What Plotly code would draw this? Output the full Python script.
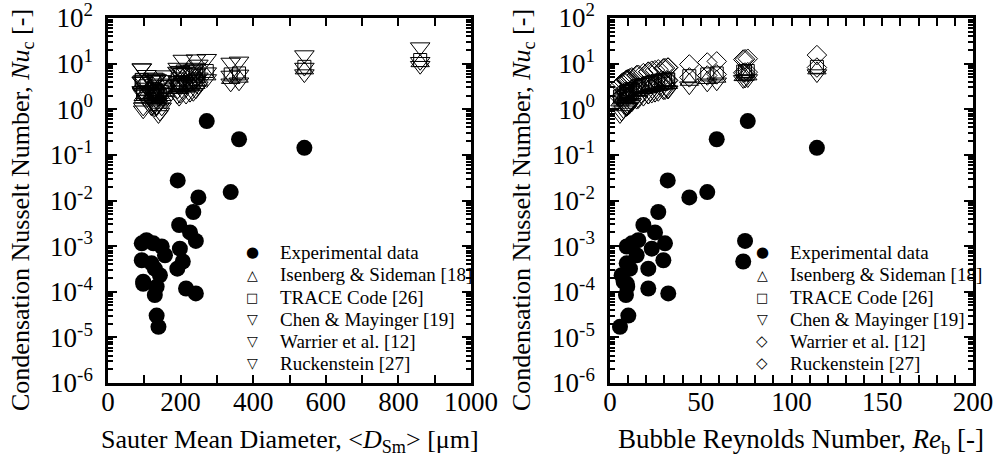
import plotly.graph_objects as go

# ---------------- data ----------------
d_sm = [272, 361, 541, 192, 249, 338, 235, 196, 226, 242, 198, 206, 191, 215, 242,
        106, 93, 125, 148, 157, 93, 120, 129, 143, 97, 97, 134, 129, 134, 139, 860]
re_b = [75.9, 58.8, 114, 31.8, 43.7, 53.6, 26.6, 18.4, 24.8, 74.4, 23, 73.4, 21.1, 21.1, 32.1,
        15.6, 30.3, 12, 9.2, 14.7, 29.4, 9.2, 11, 6.4, 7.5, 9.2, 9.5, 8.8, 10.1, 5.5, None]
nu_exp = [0.55, 0.22, 0.143, 0.0275, 0.0117, 0.0153, 0.0056, 0.0029, 0.0020, 0.0013, 0.00088,
          0.00046, 0.00032, 0.000118, 0.000092, 0.00135, 0.00115, 0.00115, 0.00098, 0.00063,
          0.00049, 0.00042, 0.00032, 0.00023, 0.000166, 0.00015, 0.000129, 0.000085, 0.00003,
          0.000017, None]
nu_isenberg = [5.4, 4.8, 7.3, 3.5, 4.1, 4.5, 3.2, 2.7, 3.1, 5.3, 3.0, 5.2, 2.8, 2.9, 3.5,
               2.5, 3.4, 2.1, 1.9, 2.4, 3.4, 1.9, 2.1, 1.6, 1.7, 1.9, 1.9, 1.8, 2.0, 1.45, 10.5]
nu_trace = [6.9, 6.1, 8.5, 4.5, 5.3, 5.8, 4.1, 3.4, 4.0, 6.8, 3.8, 6.7, 3.7, 3.6, 4.5,
            3.2, 4.4, 2.8, 2.4, 3.1, 4.3, 2.4, 2.7, 2.0, 2.2, 2.4, 2.5, 2.4, 2.5, 1.9, 12]
nu_chen = [4.6, 3.9, 5.9, 2.6, 3.2, 3.7, 2.3, 1.8, 2.2, 4.5, 2.1, 4.4, 2.0, 2.0, 2.6,
           1.6, 2.5, 1.35, 1.1, 1.55, 2.5, 1.1, 1.25, 0.85, 0.95, 1.1, 1.1, 1.05, 1.15, 0.75, 9]
nu_warrier = [6.5, 5.8, 8.2, 4.2, 5.0, 5.5, 3.9, 3.2, 3.7, 6.4, 3.6, 6.3, 3.4, 3.5, 4.3,
              3.0, 4.1, 2.6, 2.3, 2.9, 4.1, 2.3, 2.5, 1.9, 2.1, 2.3, 2.3, 2.2, 2.4, 1.8, 11]
nu_ruck = [12.8, 11.2, 15.4, 8.2, 9.6, 10.6, 7.5, 6.2, 7.2, 12.5, 7.0, 12.3, 6.7, 6.6, 8.2,
           5.7, 8.0, 5.0, 4.4, 5.6, 7.9, 4.4, 4.8, 3.7, 4.0, 4.4, 4.5, 4.3, 4.6, 3.4, 23]

legend_labels = ["Experimental data", "Isenberg &amp; Sideman [18]", "TRACE Code [26]",
                 "Chen &amp; Mayinger [19]", "Warrier et al. [12]", "Ruckenstein [27]"]
left_legend_symbols = ["●", "△", "□", "▽", "▽", "▽"]
right_legend_symbols = ["●", "△", "□", "▽", "◇", "◇"]

y_exponents = [-6, -5, -4, -3, -2, -1, 0, 1, 2]
y_tickvals = [10.0 ** e for e in y_exponents]
y_ticktext = ["10<sup>%d</sup>" % e for e in y_exponents]
y_minor_vals = [m * 10.0 ** e for e in y_exponents[:-1] for m in range(2, 10)]

# ---------------- figure ----------------
W, H = 994, 463
FONT = "Liberation Serif, 'Times New Roman', Times, serif"
fig = go.Figure()

pred_left = [
    (nu_isenberg, "triangle-up-open", 16),
    (nu_trace, "square-open", 13),
    (nu_chen, "triangle-down-open", 17),
    (nu_warrier, "triangle-down-open", 17),
    (nu_ruck, "triangle-down-open", 17),
]
pred_right = [
    (nu_isenberg, "triangle-up-open", 16),
    (nu_trace, "square-open", 13),
    (nu_chen, "triangle-down-open", 17),
    (nu_warrier, "diamond-open", 15),
    (nu_ruck, "diamond-open", 15),
]

for xs, preds, xa, ya in [(d_sm, pred_left, "x", "y"), (re_b, pred_right, "x2", "y2")]:
    for vals, sym, sz in preds:
        fig.add_trace(go.Scatter(
            x=xs, y=vals, mode="markers", xaxis=xa, yaxis=ya, showlegend=False,
            marker=dict(symbol=sym, size=sz, color="black", line=dict(color="black", width=1)),
        ))
    fig.add_trace(go.Scatter(
        x=xs, y=nu_exp, mode="markers", xaxis=xa, yaxis=ya, showlegend=False,
        marker=dict(symbol="circle", size=16, color="black", line=dict(width=0)),
    ))

common_axis = dict(
    showline=True, linecolor="black", linewidth=2.5, mirror="allticks",
    ticks="inside", tickcolor="black", tickwidth=2, showgrid=False, zeroline=False,
    automargin=False, ticklabeloverflow="allow",
    tickfont=dict(family=FONT, size=27, color="black"),
)

x_dom1 = [108 / W, 471 / W]
x_dom2 = [610 / W, 973 / W]
y_dom = [(H - 383) / H, (H - 18) / H]

yaxis_cfg = dict(common_axis, type="log", range=[-6, 2], tickmode="array",
                 tickvals=y_tickvals, ticktext=y_ticktext, ticklen=9, ticklabelstandoff=7,
                 minor=dict(tickmode="array", tickvals=y_minor_vals, ticks="inside", ticklen=5,
                            tickwidth=1.5, tickcolor="black", showgrid=False))

fig.update_layout(
    width=W, height=H,
    margin=dict(l=0, r=0, t=0, b=0, autoexpand=False),
    paper_bgcolor="white", plot_bgcolor="white",
    font=dict(family=FONT, color="black"),
    showlegend=False,
    xaxis=dict(common_axis, domain=x_dom1, anchor="y", range=[0, 1000], dtick=200, ticklen=8,
               ticklabelstandoff=-7,
               minor=dict(ticks="inside", dtick=100, ticklen=8, tickwidth=2, tickcolor="black",
                          showgrid=False)),
    yaxis=dict(yaxis_cfg, domain=y_dom, anchor="x"),
    xaxis2=dict(common_axis, domain=x_dom2, anchor="y2", range=[0, 200], dtick=50, ticklen=8,
                ticklabelstandoff=-7,
                minor=dict(ticks="inside", dtick=10, ticklen=8, tickwidth=2, tickcolor="black",
                           showgrid=False)),
    yaxis2=dict(yaxis_cfg, domain=y_dom, anchor="x2"),
)

annotations = []
title_font = dict(family=FONT, size=26, color="black")
annotations.append(dict(text="Sauter Mean Diameter, &lt;<i>D</i><sub>Sm</sub>&gt; [μm]",
                        x=290 / W, y=1 - 441 / H, xref="paper", yref="paper",
                        xanchor="center", yanchor="middle", showarrow=False, font=title_font))
annotations.append(dict(text="Bubble Reynolds Number, <i>Re</i><sub>b</sub> [-]",
                        x=801 / W, y=1 - 441 / H, xref="paper", yref="paper",
                        xanchor="center", yanchor="middle", showarrow=False,
                        font=dict(title_font, size=27)))
for xc in (22, 523):
    annotations.append(dict(text="Condensation Nusselt Number, <i>Nu</i><sub>c</sub> [-]",
                            x=xc / W, y=1 - 210 / H, xref="paper", yref="paper",
                            xanchor="center", yanchor="middle", textangle=-90,
                            showarrow=False, font=title_font))

row_y = [252, 274.5, 297, 319, 341, 363]
sym_sizes = {"●": 15, "△": 14, "□": 13, "▽": 14, "◇": 15}
for sym_x, txt_x, syms in [(252, 278, left_legend_symbols), (762, 788, right_legend_symbols)]:
    for ry, sym, lab in zip(row_y, syms, legend_labels):
        annotations.append(dict(text=sym, x=sym_x / W, y=1 - ry / H, xref="paper", yref="paper",
                                xanchor="center", yanchor="middle", showarrow=False,
                                font=dict(family="DejaVu Sans", size=sym_sizes[sym], color="black")))
        annotations.append(dict(text=lab, x=txt_x / W, y=1 - ry / H, xref="paper", yref="paper",
                                xanchor="left", yanchor="middle", showarrow=False,
                                font=dict(family=FONT, size=19, color="black")))

fig.update_layout(annotations=annotations)
fig.write_html("out.html",
               config={"displayModeBar": False},
               post_script="document.body.style.margin='0';document.body.style.overflow='hidden';")
